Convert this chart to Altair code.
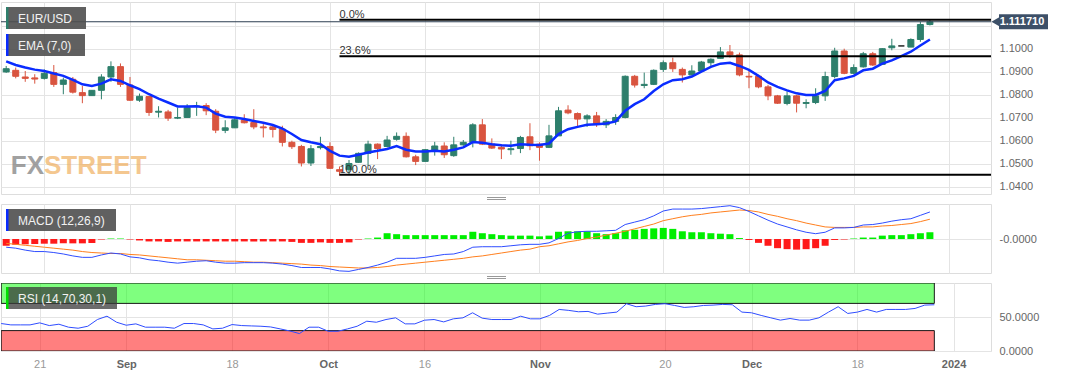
import altair as alt
import pandas as pd

# ---------------- data ----------------
day_index = list(range(-4, 94))  # trading-day index, 0 = Aug 21 2023

open_ = [1.0899, 1.0906, 1.0877, 1.0873, 1.0871, 1.0896, 1.0845, 1.0867, 1.0809, 1.0796,
         1.0819, 1.0877, 1.0922, 1.0842, 1.0776, 1.0792, 1.0724, 1.0725, 1.0698, 1.0701,
         1.0749, 1.0753, 1.0728, 1.0645, 1.0656, 1.0689, 1.0679, 1.0660, 1.0660, 1.0650,
         1.0593, 1.0575, 1.0503, 1.0570, 1.0575, 1.0474, 1.0474, 1.0506, 1.0545, 1.0585,
         1.0575, 1.0606, 1.0619, 1.0530, 1.0510, 1.0558, 1.0577, 1.0535, 1.0582, 1.0593,
         1.0669, 1.0585, 1.0571, 1.0561, 1.0566, 1.0617, 1.0585, 1.0571, 1.0621, 1.0733,
         1.0718, 1.0695, 1.0708, 1.0669, 1.0684, 1.0701, 1.0880, 1.0840, 1.0845, 1.0910,
         1.0939, 1.0910, 1.0886, 1.0903, 1.0939, 1.0958, 1.0986, 1.0973, 1.0880, 1.0880,
         1.0834, 1.0795, 1.0762, 1.0795, 1.0762, 1.0766, 1.0795, 1.0879, 1.0990, 1.0893,
         1.0921, 1.0978, 1.0932, 1.1004, 1.1012, 1.1007, 1.1040, 1.1105]
close = [1.0913, 1.0880, 1.0871, 1.0868, 1.0893, 1.0845, 1.0864, 1.0811, 1.0796, 1.0819,
         1.0877, 1.0922, 1.0845, 1.0776, 1.0793, 1.0723, 1.0728, 1.0698, 1.0701, 1.0744,
         1.0751, 1.0730, 1.0646, 1.0656, 1.0691, 1.0678, 1.0660, 1.0656, 1.0649, 1.0593,
         1.0574, 1.0503, 1.0565, 1.0575, 1.0480, 1.0467, 1.0501, 1.0545, 1.0585, 1.0566,
         1.0603, 1.0619, 1.0530, 1.0510, 1.0561, 1.0577, 1.0539, 1.0582, 1.0593, 1.0669,
         1.0585, 1.0568, 1.0564, 1.0565, 1.0614, 1.0578, 1.0571, 1.0621, 1.0730, 1.0721,
         1.0694, 1.0708, 1.0672, 1.0684, 1.0701, 1.0880, 1.0842, 1.0845, 1.0906, 1.0939,
         1.0913, 1.0886, 1.0903, 1.0942, 1.0954, 1.0986, 1.0973, 1.0886, 1.0877, 1.0834,
         1.0795, 1.0763, 1.0795, 1.0763, 1.0766, 1.0795, 1.0879, 1.0990, 1.0893, 1.0918,
         1.0978, 1.0929, 1.1000, 1.1012, 1.1012, 1.1040, 1.1105, 1.1117]
high = [1.0925, 1.0918, 1.0903, 1.0889, 1.0910, 1.0929, 1.0874, 1.0877, 1.0838, 1.0820,
        1.0889, 1.0945, 1.0936, 1.0877, 1.0805, 1.0793, 1.0750, 1.0734, 1.0744, 1.0759,
        1.0769, 1.0763, 1.0737, 1.0689, 1.0698, 1.0715, 1.0737, 1.0672, 1.0672, 1.0665,
        1.0600, 1.0582, 1.0581, 1.0617, 1.0593, 1.0488, 1.0516, 1.0549, 1.0600, 1.0588,
        1.0621, 1.0636, 1.0636, 1.0539, 1.0564, 1.0595, 1.0593, 1.0617, 1.0603, 1.0676,
        1.0694, 1.0610, 1.0585, 1.0600, 1.0621, 1.0676, 1.0593, 1.0669, 1.0747, 1.0754,
        1.0723, 1.0715, 1.0725, 1.0694, 1.0715, 1.0884, 1.0886, 1.0896, 1.0910, 1.0949,
        1.0961, 1.0918, 1.0928, 1.0947, 1.0958, 1.1007, 1.1016, 1.0983, 1.0903, 1.0886,
        1.0843, 1.0799, 1.0814, 1.0799, 1.0780, 1.0828, 1.0900, 1.1004, 1.1000, 1.0932,
        1.0986, 1.0986, 1.1002, 1.1043, 1.1012, 1.1045, 1.1117, 1.1126]
low = [1.0895, 1.0871, 1.0856, 1.0848, 1.0866, 1.0834, 1.0802, 1.0805, 1.0763, 1.0795,
       1.0780, 1.0856, 1.0834, 1.0773, 1.0769, 1.0708, 1.0701, 1.0686, 1.0694, 1.0700,
       1.0708, 1.0711, 1.0633, 1.0633, 1.0655, 1.0675, 1.0650, 1.0614, 1.0614, 1.0575,
       1.0564, 1.0488, 1.0490, 1.0562, 1.0477, 1.0448, 1.0455, 1.0504, 1.0491, 1.0520,
       1.0571, 1.0600, 1.0527, 1.0494, 1.0509, 1.0535, 1.0525, 1.0530, 1.0578, 1.0571,
       1.0581, 1.0564, 1.0520, 1.0539, 1.0546, 1.0559, 1.0513, 1.0568, 1.0621, 1.0715,
       1.0660, 1.0660, 1.0660, 1.0655, 1.0669, 1.0697, 1.0831, 1.0828, 1.0842, 1.0899,
       1.0899, 1.0853, 1.0885, 1.0902, 1.0925, 1.0957, 1.0961, 1.0880, 1.0828, 1.0828,
       1.0776, 1.0760, 1.0754, 1.0723, 1.0741, 1.0759, 1.0773, 1.0871, 1.0889, 1.0889,
       1.0918, 1.0925, 1.0929, 1.0993, 1.1012, 1.1007, 1.1030, 1.1101]
ema7 = [1.0945, 1.0929, 1.0918, 1.0909, 1.0903, 1.0892, 1.0882, 1.0864, 1.0845, 1.0838,
        1.0848, 1.0867, 1.0860, 1.0841, 1.0824, 1.0802, 1.0783, 1.0766, 1.0749, 1.0749,
        1.0750, 1.0744, 1.0718, 1.0704, 1.0701, 1.0694, 1.0686, 1.0678, 1.0668, 1.0653,
        1.0629, 1.0603, 1.0593, 1.0585, 1.0556, 1.0535, 1.0530, 1.0539, 1.0549, 1.0556,
        1.0564, 1.0577, 1.0561, 1.0553, 1.0553, 1.0556, 1.0553, 1.0561, 1.0571, 1.0594,
        1.0591, 1.0585, 1.0580, 1.0578, 1.0585, 1.0582, 1.0581, 1.0588, 1.0629, 1.0650,
        1.0660, 1.0669, 1.0672, 1.0675, 1.0684, 1.0730, 1.0759, 1.0780, 1.0816, 1.0845,
        1.0863, 1.0867, 1.0879, 1.0900, 1.0921, 1.0935, 1.0939, 1.0925, 1.0908, 1.0882,
        1.0853, 1.0834, 1.0819, 1.0806, 1.0799, 1.0799, 1.0816, 1.0863, 1.0871, 1.0882,
        1.0906, 1.0913, 1.0935, 1.0949, 1.0968, 1.0987, 1.1014, 1.1040]
macd_line = [-0.0017, -0.0019, -0.0023, -0.0026, -0.0026, -0.0028, -0.0031, -0.0035, -0.0038, -0.0038,
             -0.0033, -0.0029, -0.0031, -0.0037, -0.0039, -0.0043, -0.0045, -0.0048, -0.0050, -0.0048,
             -0.0046, -0.0045, -0.0048, -0.0050, -0.0050, -0.0049, -0.0049, -0.0049, -0.0050, -0.0052,
             -0.0055, -0.0059, -0.0059, -0.0059, -0.0062, -0.0066, -0.0067, -0.0063, -0.0059, -0.0054,
             -0.0048, -0.0040, -0.0040, -0.0040, -0.0038, -0.0035, -0.0032, -0.0031, -0.0026, -0.0017,
             -0.0016, -0.0016, -0.0016, -0.0014, -0.0012, -0.0011, -0.0011, -0.0008, 0.0001, 0.0012,
             0.0015, 0.0016, 0.0016, 0.0017, 0.0018, 0.0030, 0.0035, 0.0040, 0.0048, 0.0058,
             0.0062, 0.0062, 0.0062, 0.0063, 0.0065, 0.0067, 0.0069, 0.0065, 0.0057, 0.0048,
             0.0039, 0.0031, 0.0025, 0.0019, 0.0014, 0.0011, 0.0014, 0.0023, 0.0023, 0.0024,
             0.0029, 0.0030, 0.0033, 0.0037, 0.0040, 0.0042, 0.0049, 0.0056]
signal_line = [-0.0009, -0.0011, -0.0013, -0.0015, -0.0017, -0.0019, -0.0021, -0.0023, -0.0026, -0.0028,
               -0.0029, -0.0030, -0.0030, -0.0032, -0.0033, -0.0035, -0.0037, -0.0039, -0.0041, -0.0043,
               -0.0043, -0.0044, -0.0045, -0.0046, -0.0046, -0.0047, -0.0048, -0.0048, -0.0049, -0.0050,
               -0.0051, -0.0052, -0.0054, -0.0055, -0.0057, -0.0058, -0.0059, -0.0060, -0.0060, -0.0059,
               -0.0057, -0.0054, -0.0052, -0.0050, -0.0048, -0.0046, -0.0044, -0.0042, -0.0040, -0.0037,
               -0.0035, -0.0032, -0.0029, -0.0026, -0.0023, -0.0021, -0.0016, -0.0014, -0.0010, -0.0006,
               -0.0003, 0.0001, 0.0004, 0.0008, 0.0012, 0.0016, 0.0021, 0.0026, 0.0031, 0.0038,
               0.0042, 0.0046, 0.0049, 0.0051, 0.0054, 0.0056, 0.0058, 0.0060, 0.0059, 0.0056,
               0.0051, 0.0047, 0.0042, 0.0038, 0.0033, 0.0029, 0.0025, 0.0024, 0.0024, 0.0024,
               0.0025, 0.0025, 0.0027, 0.0028, 0.0030, 0.0032, 0.0036, 0.0041]
macd_hist = [-0.00138, -0.00117, -0.0011, -0.00103, -0.00097, -0.00097, -0.0009, -0.0009, -0.0009, -0.00083,
             -0.0001, 0.0001, 0.0001, -0.0001, -0.0003, -0.0005, -0.0005, -0.0006, -0.0005, -0.0005,
             -0.0005, -0.0005, -0.0005, -0.0005, -0.0005, -0.0005, -0.0005, -0.0005, -0.0005, -0.0005,
             -0.0006, -0.0008, -0.0008, -0.0007, -0.0008, -0.0008, -0.0007, -0.0001, 0.0001, 0.0003,
             0.0012, 0.0010, 0.0008, 0.0008, 0.0008, 0.0008, 0.0008, 0.0008, 0.0008, 0.0015,
             0.0012, 0.0010, 0.0008, 0.0007, 0.0007, 0.0007, 0.00055, 0.0007, 0.0015, 0.0016,
             0.0016, 0.0016, 0.0012, 0.0010, 0.0012, 0.0018, 0.0019, 0.0021, 0.0022, 0.0023,
             0.0021, 0.0016, 0.0014, 0.0014, 0.0012, 0.0011, 0.0010, 0.0002, -0.0002, -0.0008,
             -0.0014, -0.0019, -0.0021, -0.0022, -0.0021, -0.0019, -0.0014, -0.0002, -0.0001, 0.0001,
             0.0003, 0.0003, 0.0007, 0.0008, 0.0008, 0.0010, 0.0012, 0.0014]
rsi14 = [40.4, 38.4, 38.4, 38.4, 41.4, 37.4, 39.4, 35.0, 33.5, 36.4,
         46.3, 51.2, 42.3, 37.9, 39.9, 35.0, 35.0, 35.0, 33.5, 40.4,
         40.4, 38.4, 32.5, 33.5, 38.9, 37.4, 36.9, 36.4, 35.4, 32.5,
         29.5, 25.6, 35.0, 35.0, 29.0, 29.0, 32.5, 36.4, 43.8, 42.3,
         46.3, 48.8, 39.9, 39.9, 45.3, 46.3, 42.8, 47.3, 48.8, 56.2,
         48.3, 46.3, 46.3, 46.3, 51.2, 47.3, 47.3, 52.3, 61.1, 59.7,
         57.7, 58.2, 54.2, 55.7, 57.2, 69.5, 65.1, 66.1, 68.5, 69.5,
         67.0, 64.1, 65.1, 67.0, 67.5, 68.5, 68.0, 57.2, 56.2, 52.3,
         48.8, 45.4, 47.8, 45.4, 45.4, 48.8, 57.2, 65.1, 55.2, 57.2,
         61.1, 57.2, 61.1, 61.1, 61.1, 62.6, 67.5, 68.0]

fib_levels = [1.1126, 1.0967, 1.0452]
fib_labels = ["0.0%", "23.6%", "100.0%"]
fib_start = 31            # day index of the swing low (Oct 3)
last_price = 1.11171
rsi_zones = ["overbought", "oversold"]
rsi_zone_lo = [70, 0]
rsi_zone_hi = [100, 30]

tick_idx = [0, 9, 20, 30, 40, 52, 65, 74, 85, 95]
tick_lab = ["21", "Sep", "18", "Oct", "16", "Nov", "20", "Dec", "18", "2024"]
month_idx = [9, 30, 52, 74, 95]
price_ticks = [1.04, 1.05, 1.06, 1.07, 1.08, 1.09, 1.10, 1.11]

# ---------------- styling ----------------
GREEN = "#2e7f6c"
RED = "#d9543f"
GRID = "#e4e4e4"
FONT = "Liberation Sans, Arial, sans-serif"
W = 990

df = pd.DataFrame({
    "i": day_index, "o": open_, "h": high, "l": low, "c": close, "ema": ema7,
    "macd": macd_line, "sig": signal_line, "hist": macd_hist, "rsi": rsi14,
})
df["dir"] = ["up" if c > o else ("down" if c < o else "flat") for o, c in zip(open_, close)]

dir_scale = alt.Scale(domain=["up", "down", "flat"], range=[GREEN, RED, "#222222"])
xscale = alt.Scale(domain=[-4.02, 98.89], nice=False, zero=False)
xaxis_grid = alt.Axis(values=tick_idx, labels=False, ticks=False, domain=False,
                      grid=True, gridColor=GRID, title=None)
X = alt.X("i:Q", scale=xscale, axis=xaxis_grid)

label_expr = " : ".join(f"datum.value == {v} ? '{t}'" for v, t in zip(tick_idx, tick_lab)) + " : ''"
month_test = "indexof([" + ",".join(str(m) for m in month_idx) + "], datum.value) >= 0"
xaxis_bottom = alt.Axis(values=tick_idx, labelExpr=label_expr, ticks=False, domain=False,
                        grid=True, gridColor=GRID, title=None, labelPadding=7,
                        labelFontSize=11, labelFont=FONT,
                        labelColor={"condition": {"test": month_test, "value": "#666666"}, "value": "#999999"},
                        labelFontWeight={"condition": {"test": month_test, "value": "bold"}, "value": "normal"})
X_bottom = alt.X("i:Q", scale=xscale, axis=xaxis_bottom)


def right_axis(**kw):
    return alt.Axis(orient="right", ticks=False, domain=False, labelPadding=8,
                    labelColor="#666666", labelFontSize=11, labelFont=FONT,
                    grid=True, gridColor=GRID, title=None, **kw)


def label_box(text, x_right, y_top, accent, box_color="#4f4f4f", box_opacity=0.9):
    one = pd.DataFrame({"t": [text]})
    box = alt.Chart(one).mark_rect(color=box_color, opacity=box_opacity).encode(
        x=alt.value(5), x2=alt.value(x_right), y=alt.value(y_top), y2=alt.value(y_top + 22))
    bar = alt.Chart(one).mark_rect(color=accent).encode(
        x=alt.value(5), x2=alt.value(7.5), y=alt.value(y_top), y2=alt.value(y_top + 22))
    txt = alt.Chart(one).mark_text(align="left", baseline="middle", color="#f2f2f2",
                                   fontSize=12, font=FONT).encode(
        x=alt.value(17), y=alt.value(y_top + 11.5), text="t:N")
    return [box, bar, txt]


def drag_handle():
    one = pd.DataFrame({"t": [0]})
    return [alt.Chart(one).mark_rule(color="#999999", strokeWidth=1, clip=False).encode(
        x=alt.value(486), x2=alt.value(505), y=alt.value(off)) for off in (-6.5, -4.5)]


# ---------------- price panel ----------------
yscale_p = alt.Scale(domain=[1.03683, 1.12030], nice=False, zero=False)
yaxis_p = right_axis(values=price_ticks,
                     labelExpr="datum.value > 1.105 ? '' : format(datum.value, '.4f')")
base = alt.Chart(df)

wicks = base.mark_rule(strokeWidth=1, clip=True).encode(
    x=X, y=alt.Y("l:Q", scale=yscale_p, axis=yaxis_p), y2="h:Q",
    color=alt.Color("dir:N", scale=dir_scale, legend=None))
bodies = base.mark_bar(size=6, strokeWidth=1, clip=True).encode(
    x=X, y=alt.Y("o:Q", scale=yscale_p, axis=yaxis_p), y2="c:Q",
    color=alt.Color("dir:N", scale=dir_scale, legend=None),
    stroke=alt.Stroke("dir:N", scale=dir_scale, legend=None))
ema_line = base.mark_line(color="#0a2cff", strokeWidth=2.5, clip=True).encode(
    x=X, y=alt.Y("ema:Q", scale=yscale_p, axis=yaxis_p))

fib_df = pd.DataFrame({"level": fib_levels, "label": fib_labels, "start": [fib_start] * len(fib_levels)})
fib_rules = alt.Chart(fib_df).mark_rule(color="black", strokeWidth=2).encode(
    x=alt.X("start:Q", scale=xscale, axis=xaxis_grid), x2=alt.value(W),
    y=alt.Y("level:Q", scale=yscale_p, axis=yaxis_p))
fib_text = alt.Chart(fib_df).mark_text(align="left", baseline="alphabetic", dy=-2,
                                       fontSize=11, font=FONT, color="#333333").encode(
    x=alt.X("start:Q", scale=xscale, axis=xaxis_grid),
    y=alt.Y("level:Q", scale=yscale_p, axis=yaxis_p), text="label:N")

last_df = pd.DataFrame({"p": [last_price], "t": [f"{last_price:.6f}"]})
price_line = alt.Chart(last_df).mark_rule(color="#2c3e50", strokeWidth=1).encode(
    x=alt.value(0), x2=alt.value(W), y=alt.Y("p:Q", scale=yscale_p, axis=yaxis_p))
tag_body = alt.Chart(last_df).mark_rule(color="#3d5068", strokeWidth=15, clip=False).encode(
    x=alt.value(998), x2=alt.value(1047), y=alt.Y("p:Q", scale=yscale_p, axis=yaxis_p))
tag_arrow = alt.Chart(last_df).mark_point(shape="triangle-left", filled=True, size=110,
                                          color="#3d5068", opacity=1, clip=False).encode(
    x=alt.value(995), y=alt.Y("p:Q", scale=yscale_p, axis=yaxis_p))
tag_text = alt.Chart(last_df).mark_text(color="white", fontWeight="bold", fontSize=11,
                                        font=FONT, align="center", baseline="middle", clip=False).encode(
    x=alt.value(1021), y=alt.Y("p:Q", scale=yscale_p, axis=yaxis_p), text="t:N")

wm = pd.DataFrame({"a": ["FX"], "b": ["STREET"]})
wm_fx = alt.Chart(wm).mark_text(align="right", baseline="alphabetic", fontSize=26, fontWeight="bold",
                                font=FONT, color="#8a8a8a", opacity=0.8).encode(
    x=alt.value(43), y=alt.value(172), text="a:N")
wm_st = alt.Chart(wm).mark_text(align="left", baseline="alphabetic", fontSize=26, fontWeight="bold",
                                font=FONT, color="#f0b060", opacity=0.7).encode(
    x=alt.value(43), y=alt.value(172), text="b:N")

price_panel = alt.layer(
    wm_fx, wm_st, wicks, bodies, ema_line, fib_rules, fib_text, price_line,
    *label_box("EUR/USD", 85, 5, GREEN), *label_box("EMA (7,0)", 84, 32, "#0a2cff"),
    tag_body, tag_arrow, tag_text,
).properties(width=W, height=192)

# ---------------- MACD panel ----------------
yscale_m = alt.Scale(domain=[-0.00704, 0.00725], nice=False, zero=False)
yaxis_m = right_axis(values=[0], labelExpr="'-0.0000'")
hist_bars = base.mark_bar(size=7, clip=True).encode(
    x=X, y=alt.Y("hist:Q", scale=yscale_m, axis=yaxis_m), y2=alt.datum(0),
    color=alt.condition("datum.hist >= 0", alt.value("#00ee00"), alt.value("#ff1a1a")))
macd_l = base.mark_line(color="#2f4dff", strokeWidth=1, clip=True).encode(
    x=X, y=alt.Y("macd:Q", scale=yscale_m, axis=yaxis_m))
sig_l = base.mark_line(color="#ff7f1e", strokeWidth=1, clip=True).encode(
    x=X, y=alt.Y("sig:Q", scale=yscale_m, axis=yaxis_m))
macd_panel = alt.layer(
    hist_bars, sig_l, macd_l, *label_box("MACD (12,26,9)", 115, 5, "#0a2cff"), *drag_handle()
).properties(width=W, height=69)

# ---------------- RSI panel ----------------
yscale_r = alt.Scale(domain=[0, 100], nice=False, zero=False)
yaxis_r = right_axis(values=[0, 50], format=".4f")
zones = pd.DataFrame({"zone": rsi_zones, "lo": rsi_zone_lo, "hi": rsi_zone_hi,
                      "x0": [day_index[0]] * 2, "x1": [day_index[-1]] * 2})
zone_rect = alt.Chart(zones).mark_rect(stroke="#1a1a1a", strokeWidth=1, fillOpacity=0.5, clip=True).encode(
    x=alt.X("x0:Q", scale=xscale, axis=xaxis_bottom), x2="x1:Q",
    y=alt.Y("lo:Q", scale=yscale_r, axis=yaxis_r), y2="hi:Q",
    fill=alt.Fill("zone:N", scale=alt.Scale(domain=rsi_zones, range=["#00ff00", "#ff0000"]), legend=None))
rsi_l = base.mark_line(color="#2f4dff", strokeWidth=1, clip=True).encode(
    x=X_bottom, y=alt.Y("rsi:Q", scale=yscale_r, axis=yaxis_r))
rsi_panel = alt.layer(
    zone_rect, rsi_l, *label_box("RSI (14,70,30,1)", 116, 4, "#00e000", box_color="#3a3a3a", box_opacity=0.75),
    *drag_handle()
).properties(width=W, height=68)

chart = alt.vconcat(price_panel, macd_panel, rsi_panel, spacing=10, bounds="flush").properties(
    padding={"left": 0, "top": 1, "right": 0, "bottom": 0}
).configure_view(fill="#f7f7f7", stroke="#cdd4e2").configure(background="white", font=FONT)

chart.save("out.html", embed_options={"renderer": "svg", "actions": False})
